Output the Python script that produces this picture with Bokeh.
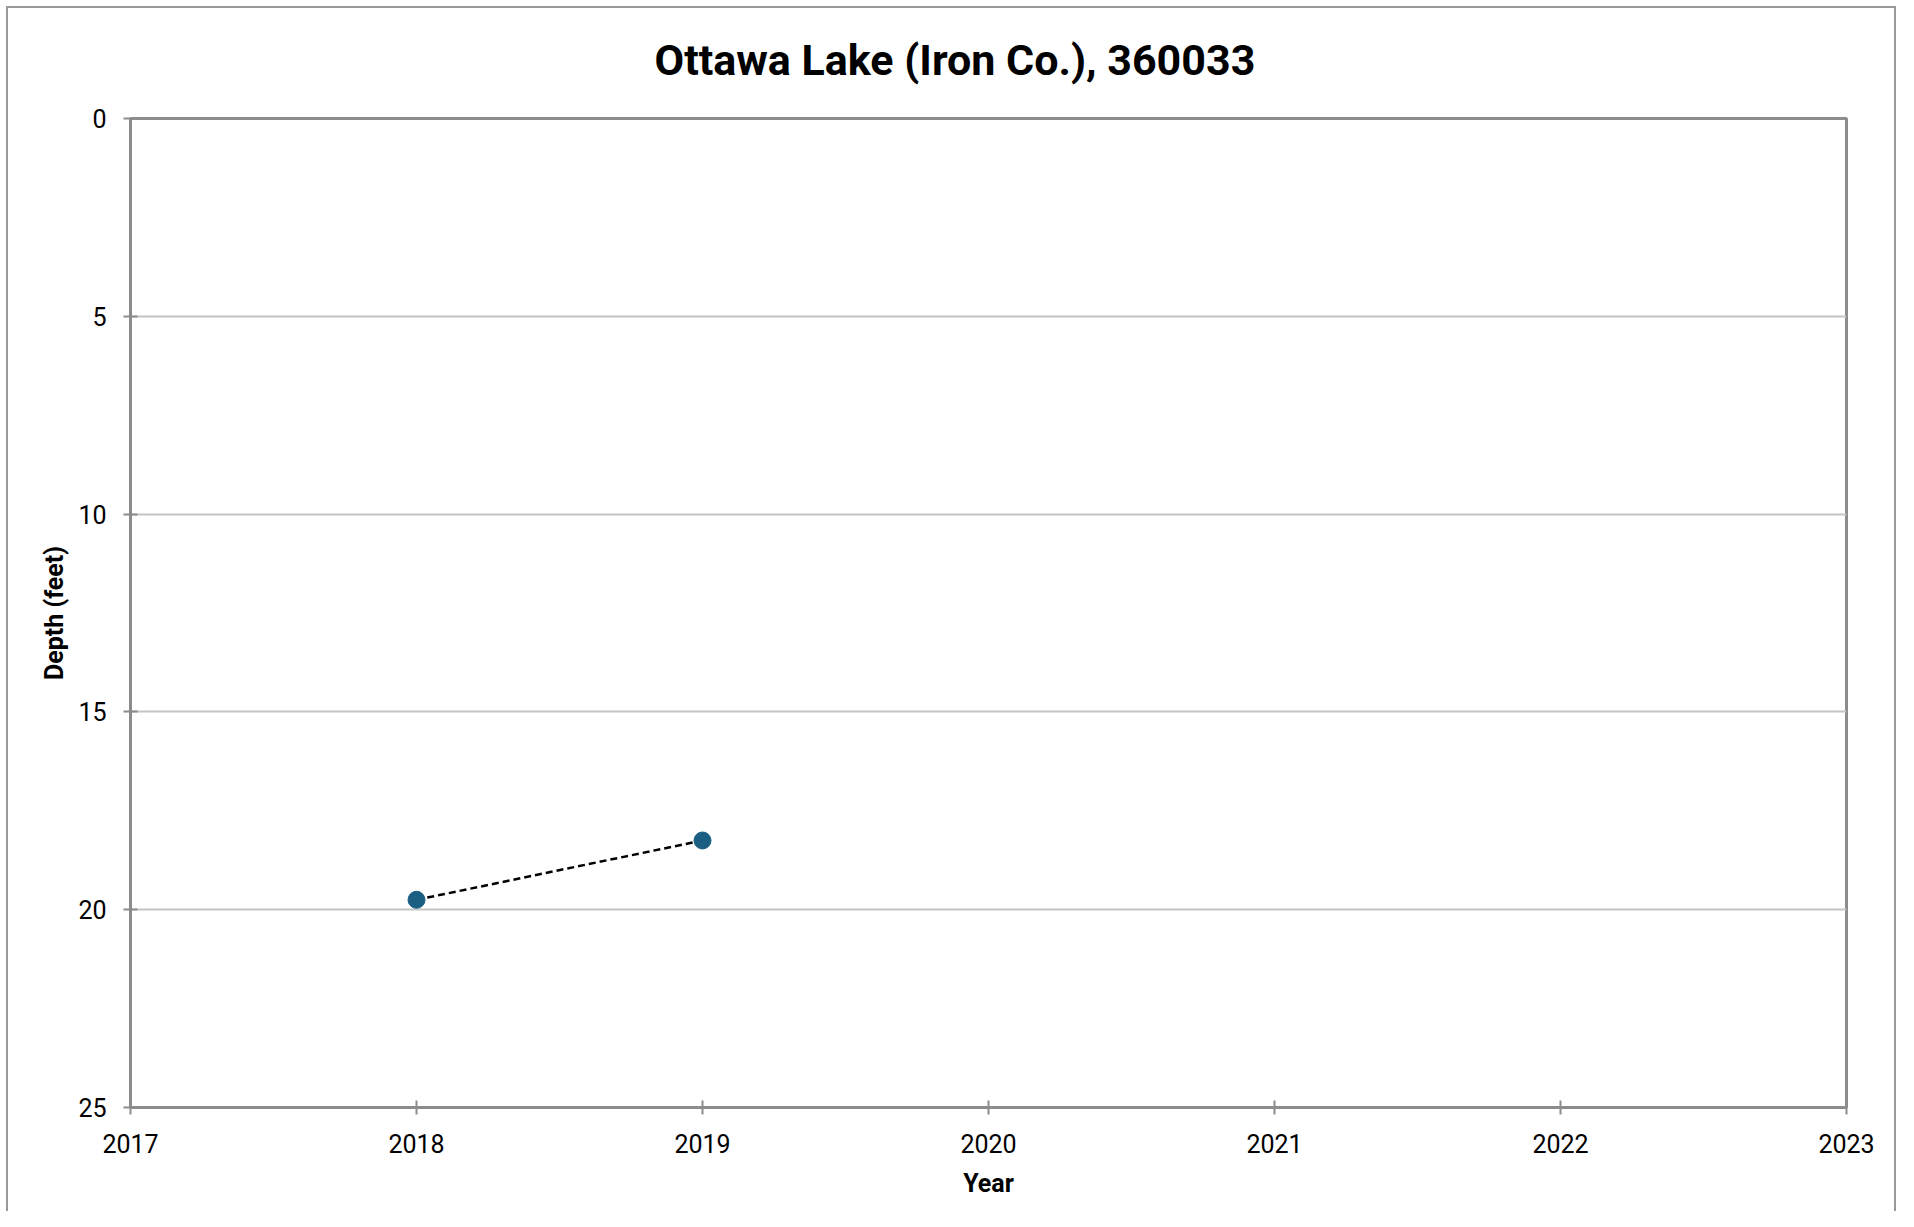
from bokeh.plotting import figure
from bokeh.models import Range1d, FixedTicker, ColumnDataSource
from bokeh.embed import file_html
from bokeh.resources import INLINE

# Data
years = [2018, 2019]
depths = [19.75, 18.25]
x_ticks = [2017, 2018, 2019, 2020, 2021, 2022, 2023]
y_ticks = [0, 5, 10, 15, 20, 25]
title_text = "Ottawa Lake (Iron Co.), 360033"

FONT = "Roboto"
AXIS_GRAY = "#8c8c8c"

p = figure(width=1898, height=1211, output_backend="svg", toolbar_location=None,
           x_range=Range1d(2017, 2023), y_range=Range1d(25, 0),
           min_border_left=130, min_border_top=118, min_border_right=52, min_border_bottom=104)
p.border_fill_color = None
p.background_fill_color = "white"
p.styles = {
    "box-shadow": "inset 6px 6px 0 0 #ffffff, inset -2px 0 0 0 #ffffff, "
                  "inset 8px 8px 0 0 #999999, inset -4px 0 0 0 #999999",
    "background-color": "#ffffff",
}

# title is centred on the whole chart, so it is placed from the frame's left edge
p.title.text = title_text
p.title.align = "left"
p.title.offset = 524
p.title.vertical_align = "top"
p.title.text_font = FONT
p.title.text_font_size = "43px"
p.title.text_font_style = "bold"
p.title.text_color = "#000000"
p.title.standoff = 63

p.outline_line_color = AXIS_GRAY
p.outline_line_width = 3

p.xaxis.ticker = FixedTicker(ticks=x_ticks)
p.yaxis.ticker = FixedTicker(ticks=y_ticks)
p.xaxis.axis_label = "Year"
p.yaxis.axis_label = "Depth (feet)"

for ax in (p.xaxis, p.yaxis):
    ax.axis_line_color = AXIS_GRAY
    ax.axis_line_width = 3
    ax.major_tick_line_color = AXIS_GRAY
    ax.major_tick_line_width = 2
    ax.major_tick_in = 7
    ax.major_tick_out = 7
    ax.minor_tick_line_color = None
    ax.major_label_text_font = FONT
    ax.major_label_text_font_size = "25px"
    ax.major_label_text_color = "#000000"
    ax.axis_label_text_font = FONT
    ax.axis_label_text_font_size = "25px"
    ax.axis_label_text_font_style = "bold"
    ax.axis_label_text_color = "#000000"

p.xaxis.major_label_standoff = 19
p.xaxis.axis_label_standoff = 13
p.yaxis.major_label_standoff = 17
p.yaxis.axis_label_standoff = 6

p.xgrid.grid_line_color = None
p.ygrid.grid_line_color = "#c4c4c4"
p.ygrid.grid_line_width = 2

src = ColumnDataSource(data=dict(x=years, y=depths))
p.line("x", "y", source=src, line_color="black", line_width=2.5, line_dash="7 4")
p.scatter("x", "y", source=src, size=17, fill_color="#1a5e82", line_color="#1a5e82")

open("out.html", "w").write(file_html(p, INLINE))
